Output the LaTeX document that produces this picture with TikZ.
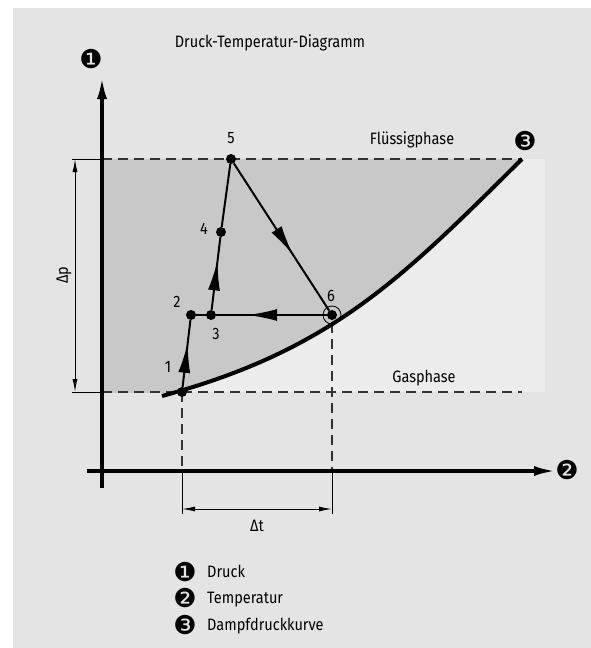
\documentclass[tikz,border=0pt]{standalone}
\usepackage{fontspec}
\setmainfont{Fira Sans}[FakeStretch=0.88]
\newfontfamily\dingfont{DejaVu Sans}
\usetikzlibrary{arrows.meta,decorations.markings,positioning}

\definecolor{bggray}{HTML}{E4E4E4}
\definecolor{darkreg}{HTML}{C8C8C8}
\definecolor{lightreg}{HTML}{ECECEC}

\begin{document}
\begin{tikzpicture}[
  x=1pt,y=-1pt,
  font=\fontsize{16.5}{19}\selectfont,
  dot/.style={circle,fill=black,minimum size=10pt,inner sep=0pt},
  num/.style={font=\fontsize{26}{26}\selectfont\dingfont,inner sep=0pt},
  lbl/.style={inner sep=0pt,text height=11.5pt,text depth=0pt},
  axis/.style={line width=3.5pt,-{Latex[length=22pt,width=10pt]}},
  dimln/.style={line width=1pt,{Latex[length=13pt,width=5pt]}-{Latex[length=13pt,width=5pt]}},
  dashln/.style={line width=1.1pt,dash pattern=on 10pt off 6pt,black!80},
  thinln/.style={line width=1pt},
  flow/.style={line width=2pt,postaction={decorate},
    decoration={markings,mark=at position #1 with {\arrow{Latex[length=30pt,width=12pt]}}}},
  flow/.default=0.6
]
  \useasboundingbox (0,0) rectangle (591,648);
  \fill[bggray] (12.5,8) rectangle (591,648);

  % regions
  \fill[lightreg] (102,159) rectangle (545,392);
  \begin{scope}
    \clip (102,159) rectangle (545,392);
    \fill[darkreg] (102,159) -- (522,159) .. controls (402,278) and (332,350) .. (162,396) -- (102,396) -- cycle;
  \end{scope}

  % guide lines
  \coordinate (pt0) at (72,159);
  \coordinate (pt1) at (102,159);
  \coordinate (pt2) at (522,159);
  \coordinate (pb0) at (72,392);
  \coordinate (pb1) at (102,392);
  \coordinate (pb2) at (522,392);
  \draw[thinln] (pt0) -- (pt1);
  \draw[thinln] (pb0) -- (pb1);
  \draw[dashln] (pt1) -- (pt2);
  \draw[dashln] (pb1) -- (pb2);

  \coordinate (ta0) at (182,392);
  \coordinate (ta1) at (182,471);
  \coordinate (ta2) at (182,514);
  \coordinate (tb0) at (332,323);
  \coordinate (tb1) at (332,471);
  \coordinate (tb2) at (332,514);
  \draw[dashln] (ta0) -- (ta1);
  \draw[dashln] (tb0) -- (tb1);
  \draw[thinln] (ta1) -- (ta2);
  \draw[thinln] (tb1) -- (tb2);

  % dimensions
  \coordinate (dp0) at (75,159);
  \coordinate (dp1) at (75,392);
  \draw[dimln] (dp0) -- (dp1);
  \node[lbl,rotate=90] (dpl) at (62,275) {Δp};
  \coordinate (dt0) at (182,509);
  \coordinate (dt1) at (332,509);
  \draw[dimln] (dt0) -- (dt1);
  \node[lbl] (dtl) at (257,526) {Δt};

  % axes
  \node[num] (n1) at (91,59) {❶};
  \node[num] (n2) at (567,470) {❷};
  \coordinate (yo) at (102,488);
  \coordinate (ytop) at (102,77);
  \coordinate (xo) at (87,471);
  \coordinate (xend) at (556,471);
  \draw[axis] (yo) -- (ytop);
  \draw[axis] (xo) -- (xend);

  % vapour pressure curve
  \coordinate (c0) at (162,396);
  \coordinate (c1) at (522,159);
  \draw[line width=4pt] (c0) .. controls (332,350) and (402,278) .. (c1);
  \node[num] (n3) at (525,141) {❸};

  % texts
  \node[lbl] (title) at (270,42) {Druck-Temperatur-Diagramm};
  \node[lbl] (fl) at (412,139) {Flüssigphase};
  \node[lbl] (gas) at (424,377) {Gasphase};

  % process
  \node[dot] (p1) at (182,392) {};
  \node[dot] (p2) at (191,315) {};
  \node[dot] (p3) at (211,315) {};
  \node[dot] (p4) at (221,232) {};
  \node[dot] (p5) at (231,159) {};
  \node[dot] (p6) at (332,315) {};
  \draw[line width=0.8pt] (p6) circle (9pt);

  \draw[flow=0.66] (p1) -- (p2);
  \draw[line width=2pt] (p2) -- (p3);
  \draw[flow=0.68] (p3) -- (p4);
  \draw[line width=2pt] (p4) -- (p5);
  \draw[flow=0.62] (p5) -- (p6);
  \draw[flow=0.72] (p6) -- (p3);

  \node[lbl] (l1) at (168,367) {1};
  \node[lbl] (l2) at (177,302) {2};
  \node[lbl] (l3) at (216,334) {3};
  \node[lbl] (l4) at (204,229) {4};
  \node[lbl] (l5) at (231,138) {5};
  \node[lbl] (l6) at (331,296) {6};

  % legend
  \node[num] (k1) at (185,572) {❶};
  \node[num] (k2) at (185,598) {❷};
  \node[num] (k3) at (185,625) {❸};
  \node[lbl,anchor=west] (t1) at (207,572) {Druck};
  \node[lbl,anchor=west] (t2) at (207,598) {Temperatur};
  \node[lbl,anchor=west] (t3) at (207,625) {Dampfdruckkurve};
\end{tikzpicture}
\end{document}
